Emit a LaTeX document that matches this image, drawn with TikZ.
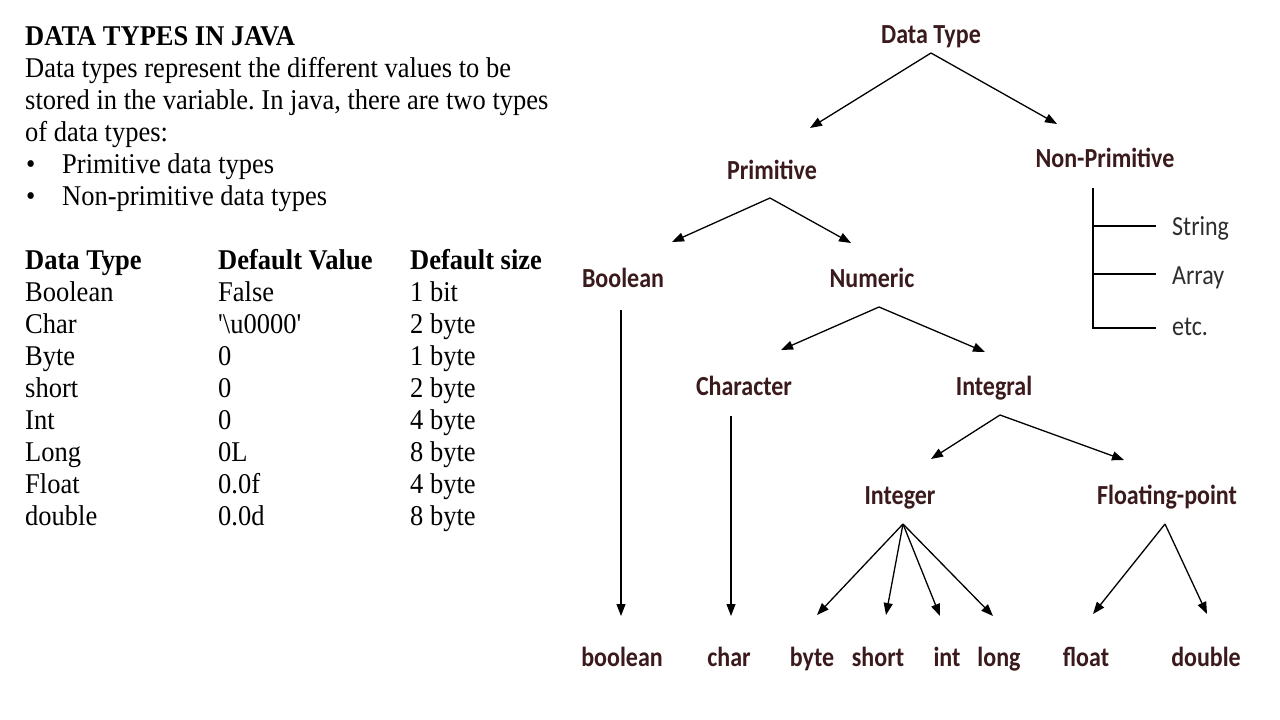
\documentclass[tikz,border=0pt]{standalone}
\usepackage{fontspec}
\setmainfont{Liberation Serif}
\newfontfamily\calfam{Carlito}
\usetikzlibrary{arrows.meta}
\definecolor{lab}{RGB}{58,26,28}
\definecolor{npc}{RGB}{45,45,45}
\newcommand{\dlab}[1]{\scalebox{1}[1.15]{#1}}
\newcommand{\tlab}[1]{\scalebox{1}[1.08]{#1}}
\frenchspacing
\begin{document}
\begin{tikzpicture}[x=1pt,y=-1pt,
 txt/.style={anchor=base west, inner sep=0pt, font=\fontsize{26.5}{30}\selectfont},
 txtb/.style={anchor=base west, inner sep=0pt, font=\fontsize{26.5}{30}\selectfont\bfseries},
 lbl/.style={anchor=base, inner sep=0pt, text=lab, font=\calfam\bfseries\fontsize{24}{28}\selectfont},
 nplbl/.style={anchor=base west, inner sep=0pt, text=npc, font=\calfam\fontsize{24}{28}\selectfont},
 arr/.style={line width=1.3pt, -{Triangle[length=12pt,width=9pt]}},
 ln/.style={line width=1.3pt}]
\fill[white] (0,0) rectangle (1280,720);
\useasboundingbox (0,0) rectangle (1280,720);

% ---------- left text ----------
\node[txtb] (title) at (25,45) {\tlab{DATA TYPES IN JAVA}};
\node[txt] (p1) at (25,77) {\tlab{Data types represent the different values to be}};
\node[txt] (p2) at (25,109) {\tlab{stored in the variable. In java, there are two types}};
\node[txt] (p3) at (25,141) {\tlab{of data types:}};
\node[txt] (b1) at (26,173) {\tlab{•}};
\node[txt] (b1t) at (62,173) {\tlab{Primitive data types}};
\node[txt] (b2) at (26,205) {\tlab{•}};
\node[txt] (b2t) at (62,205) {\tlab{Non-primitive data types}};

\node[txtb] (h1) at (25,269) {\tlab{Data Type}};
\node[txtb] (h2) at (218,269) {\tlab{Default Value}};
\node[txtb] (h3) at (410,269) {\tlab{Default size}};
\foreach \i/\a/\b/\c in {1/Boolean/False/1 bit, 2/Char/{\textquotesingle\textbackslash u0000\textquotesingle}/2 byte,
  3/Byte/0/1 byte, 4/short/0/2 byte, 5/Int/0/4 byte, 6/Long/0L/8 byte, 7/Float/0.0f/4 byte, 8/double/0.0d/8 byte}{
  \node[txt] (r\i a) at (25,269+32*\i) {\tlab{\a}};
  \node[txt] (r\i b) at (218,269+32*\i) {\tlab{\b}};
  \node[txt] (r\i c) at (410,269+32*\i) {\tlab{\c}};
}

% ---------- tree labels ----------
\node[lbl] (dt) at (931,43) {\dlab{Data Type}};
\node[lbl] (prim) at (772,179) {\dlab{Primitive}};
\node[lbl] (nonp) at (1105,167) {\dlab{Non-Primitive}};
\node[lbl] (bool) at (623,287) {\dlab{Boolean}};
\node[lbl] (num) at (872,287) {\dlab{Numeric}};
\node[lbl] (chr) at (744,395) {\dlab{Character}};
\node[lbl] (igl) at (994,395) {\dlab{Integral}};
\node[lbl] (intg) at (900,504) {\dlab{Integer}};
\node[lbl] (flt) at (1167,504) {\dlab{Floating-point}};

\node[lbl] (lbool) at (622,666) {\dlab{boolean}};
\node[lbl] (lchar) at (729,666) {\dlab{char}};
\node[lbl] (lbyte) at (812,666) {\dlab{byte}};
\node[lbl] (lshort) at (878,666) {\dlab{short}};
\node[lbl] (lint) at (947,666) {\dlab{int}};
\node[lbl] (llong) at (999,666) {\dlab{long}};
\node[lbl] (lfloat) at (1086,666) {\dlab{float}};
\node[lbl] (ldouble) at (1206,666) {\dlab{double}};

\node[nplbl] (str) at (1172,235) {\dlab{String}};
\node[nplbl] (arrn) at (1172,284) {\dlab{Array}};
\node[nplbl] (etc) at (1172,335) {\dlab{etc.}};

% ---------- connector points ----------
\coordinate (dtA) at (931,53);
\coordinate (primT) at (810,128);
\coordinate (nonpT) at (1057,124);
\coordinate (primA) at (770,198);
\coordinate (boolT) at (672,242);
\coordinate (numT) at (851,243);
\coordinate (numA) at (879,307);
\coordinate (chrT) at (781,350);
\coordinate (iglT) at (985,352);
\coordinate (iglA) at (1000,415);
\coordinate (intgT) at (931,459);
\coordinate (fltT) at (1124,460);
\coordinate (intgA) at (903,524);
\coordinate (byteT) at (817,615);
\coordinate (shortT) at (886,615);
\coordinate (intT) at (940,616);
\coordinate (longT) at (993,616);
\coordinate (fltA) at (1165,524);
\coordinate (floatT) at (1093,614);
\coordinate (doubleT) at (1207,614);
\coordinate (boolA) at (621,310);
\coordinate (lboolT) at (621,616);
\coordinate (chrA) at (731,416);
\coordinate (lcharT) at (731,616);
\coordinate (npTop) at (1093,188);
\coordinate (npBot) at (1093,328);
\coordinate (npS) at (1093,226);
\coordinate (npA) at (1093,274);
\coordinate (npSE) at (1156,226);
\coordinate (npAE) at (1156,274);
\coordinate (npEE) at (1156,328);

% ---------- connectors ----------
\draw[arr] (dtA) -- (primT);
\draw[arr] (dtA) -- (nonpT);
\draw[arr] (primA) -- (boolT);
\draw[arr] (primA) -- (numT);
\draw[arr] (numA) -- (chrT);
\draw[arr] (numA) -- (iglT);
\draw[arr] (iglA) -- (intgT);
\draw[arr] (iglA) -- (fltT);
\draw[arr] (intgA) -- (byteT);
\draw[arr] (intgA) -- (shortT);
\draw[arr] (intgA) -- (intT);
\draw[arr] (intgA) -- (longT);
\draw[arr] (fltA) -- (floatT);
\draw[arr] (fltA) -- (doubleT);
\draw[arr] (boolA) -- (lboolT);
\draw[arr] (chrA) -- (lcharT);

\draw[ln] (npTop) -- (npBot) -- (npEE);
\draw[ln] (npS) -- (npSE);
\draw[ln] (npA) -- (npAE);
\end{tikzpicture}
\end{document}
